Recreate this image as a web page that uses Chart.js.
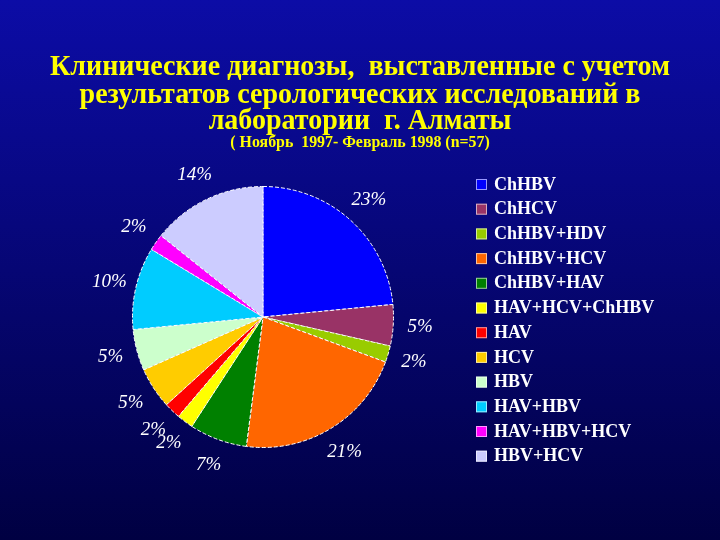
<!DOCTYPE html>
<html>
<head>
<meta charset="utf-8">
<script src="https://cdn.jsdelivr.net/npm/chart.js@4/dist/chart.umd.min.js"></script>
<style>
  html, body { margin: 0; padding: 0; background: #000050; }
  #wrap { width: 720px; height: 540px; }
</style>
</head>
<body>
<div id="wrap"><canvas id="grafico" width="720" height="540"></canvas></div>
<script>
const titulo = [
  "Клинические диагнозы,  выставленные с учетом",
  "результатов серологических исследований в",
  "лаборатории  г. Алматы"
];
const subtitulo = "( Ноябрь  1997- Февраль 1998 (n=57)";

const diagnozy = [
  "ChHBV", "ChHCV", "ChHBV+HDV", "ChHBV+HCV", "ChHBV+HAV", "HAV+HCV+ChHBV",
  "HAV", "HCV", "HBV", "HAV+HBV", "HAV+HBV+HCV", "HBV+HCV"
];
const procenty = [23, 5, 2, 21, 7, 2, 2, 5, 5, 10, 2, 14];
const cveta = [
  "#0000ff", "#993366", "#99cc00", "#ff6600", "#008000", "#ffff00",
  "#ff0000", "#ffcc00", "#ccffcc", "#00ccff", "#ff00ff", "#ccccff"
];

// fondo degradado
const fondo = {
  id: "fondo",
  beforeDraw(chart) {
    const ctx = chart.ctx;
    const g = ctx.createLinearGradient(0, 0, 0, chart.height);
    g.addColorStop(0, "#0c0ca6");
    g.addColorStop(1, "#000042");
    ctx.save();
    ctx.fillStyle = g;
    ctx.fillRect(0, 0, chart.width, chart.height);
    ctx.restore();
  }
};

// titulo condensado como en la diapositiva
const encabezado = {
  id: "encabezado",
  afterDraw(chart) {
    const ctx = chart.ctx;
    ctx.save();
    ctx.fillStyle = "#ffff00";
    ctx.textAlign = "center";
    ctx.textBaseline = "middle";
    ctx.font = "bold 30px 'Liberation Serif'";
    const sx = 620 / ctx.measureText(titulo[0]).width;
    const ys = [67, 95, 121];
    titulo.forEach((t, i) => {
      ctx.save();
      ctx.translate(360, ys[i]);
      ctx.scale(sx, 1);
      ctx.fillText(t, 0, 0);
      ctx.restore();
    });
    ctx.font = "bold 17px 'Liberation Serif'";
    ctx.save();
    ctx.translate(360, 143);
    ctx.scale(sx, 1);
    ctx.fillText(subtitulo, 0, 0);
    ctx.restore();
    ctx.restore();
  }
};

// etiquetas de porcentaje fuera de cada sector
const etiquetas = {
  id: "etiquetas",
  afterDatasetsDraw(chart) {
    const ctx = chart.ctx;
    const meta = chart.getDatasetMeta(0);
    const vals = chart.data.datasets[0].data;
    ctx.save();
    ctx.fillStyle = "#ffffff";
    ctx.font = "italic 19px 'Liberation Serif'";
    ctx.textAlign = "center";
    ctx.textBaseline = "middle";
    meta.data.forEach((arc, i) => {
      const p = arc.getProps(["x", "y", "startAngle", "endAngle", "outerRadius"], true);
      const a = (p.startAngle + p.endAngle) / 2;
      const d = p.outerRadius + 27;
      ctx.fillText(vals[i] + "%", p.x + Math.cos(a) * d, p.y + Math.sin(a) * d);
    });
    ctx.restore();
  }
};

// leyenda en una sola columna
const leyenda = {
  id: "leyenda",
  afterDraw(chart) {
    const ctx = chart.ctx;
    const ds = chart.data.datasets[0];
    ctx.save();
    ctx.font = "bold 18px 'Liberation Serif'";
    ctx.textBaseline = "middle";
    chart.data.labels.forEach((lab, i) => {
      const y = 184 + i * 24.7;
      ctx.fillStyle = ds.backgroundColor[i];
      ctx.fillRect(476, y - 5, 11, 11);
      ctx.strokeStyle = "rgba(255,255,255,0.6)";
      ctx.lineWidth = 1;
      ctx.strokeRect(476.5, y - 4.5, 10, 10);
      ctx.fillStyle = "#ffffff";
      ctx.fillText(lab, 494, y + 1);
    });
    ctx.restore();
  }
};

const ctx = document.getElementById("grafico").getContext("2d");
new Chart(ctx, {
  type: "pie",
  data: {
    labels: diagnozy,
    datasets: [{
      data: procenty,
      backgroundColor: cveta,
      borderColor: "#ffffff",
      borderWidth: 1,
      borderDash: [4, 2]
    }]
  },
  options: {
    responsive: false,
    animation: false,
    layout: {
      padding: { left: 132, top: 186, right: 326, bottom: 92 }
    },
    plugins: {
      legend: { display: false },
      tooltip: { enabled: false },
      title: { display: false }
    }
  },
  plugins: [fondo, encabezado, etiquetas, leyenda]
});
</script>
</body>
</html>
